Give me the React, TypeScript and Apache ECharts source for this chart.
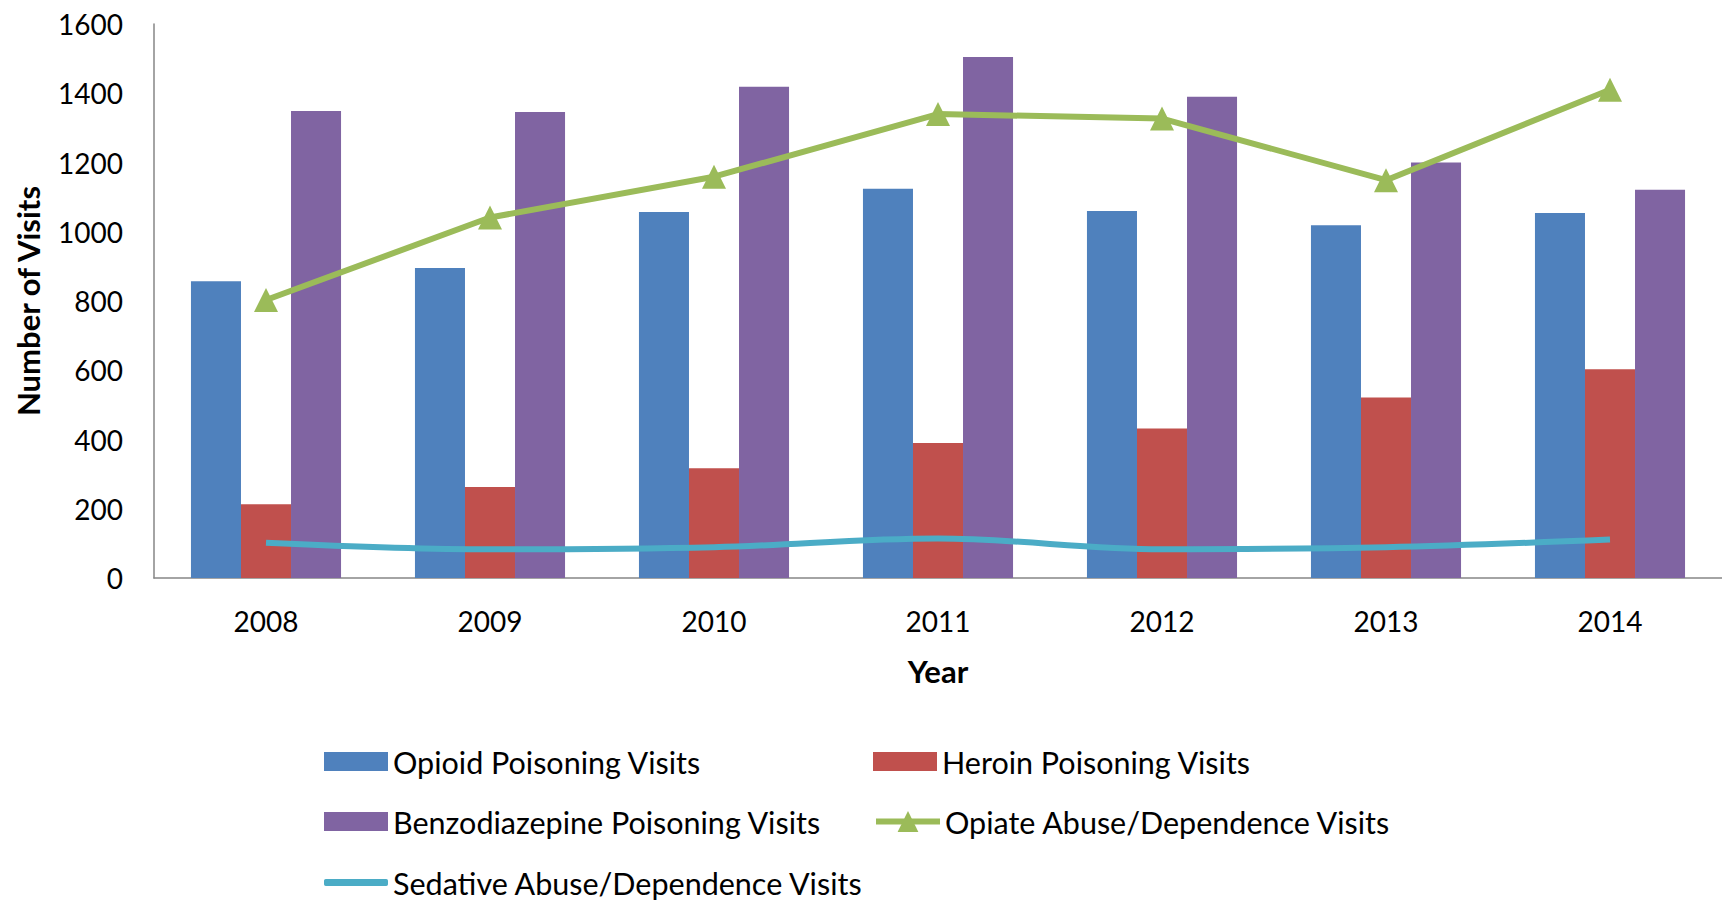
import React, { useEffect, useRef } from "react";
import * as echarts from "echarts";

const years = ["2008", "2009", "2010", "2011", "2012", "2013", "2014"];
const opioidPoisoning = [857, 895, 1057, 1124, 1060, 1019, 1054];
const heroinPoisoning = [213, 263, 317, 390, 432, 521, 603];
const benzoPoisoning = [1349, 1346, 1419, 1505, 1390, 1200, 1121];
const opiateAbuse = [803, 1041, 1159, 1340, 1327, 1149, 1410];
const sedativeAbuse = [102, 83, 89, 114, 83, 89, 111];

const seriesNames = [
  "Opioid Poisoning Visits",
  "Heroin Poisoning Visits",
  "Benzodiazepine Poisoning Visits",
  "Opiate Abuse/Dependence Visits",
  "Sedative Abuse/Dependence Visits",
];

const FONT = "Lato";

export default function App() {
  const ref = useRef<HTMLDivElement>(null);
  useEffect(() => {
    if (!ref.current) return;
    const chart = echarts.init(ref.current, undefined, { renderer: "svg" });
    const legendBase = {
      orient: "horizontal",
      padding: 0,
      itemWidth: 64,
      itemHeight: 19,
      itemGap: 0,
      textStyle: { fontFamily: FONT, fontSize: 30.5, color: "#000" },
      selectedMode: false,
    };
    const rowTops = [746, 806, 867];
    chart.setOption({
      animation: false,
      backgroundColor: "#fff",
      grid: { left: 154, right: 0, top: 24, bottom: 323, containLabel: false },
      legend: [
        { ...legendBase, left: 324, top: rowTops[0], icon: "rect", data: [seriesNames[0]] },
        { ...legendBase, left: 873, top: rowTops[0], icon: "rect", data: [seriesNames[1]] },
        { ...legendBase, left: 324, top: rowTops[1], icon: "rect", data: [seriesNames[2]] },
        {
          ...legendBase,
          left: 873,
          top: rowTops[1],
          itemHeight: 26,
          lineStyle: { width: 6 },
          data: [seriesNames[3]],
        },
        {
          ...legendBase,
          left: 324,
          top: rowTops[2],
          itemHeight: 7,
          icon: "roundRect",
          data: [seriesNames[4]],
        },
      ],
      xAxis: {
        type: "category",
        data: years,
        name: "Year",
        nameLocation: "middle",
        nameGap: 77,
        nameTextStyle: { fontFamily: FONT, fontSize: 31, fontWeight: "bold", color: "#000" },
        axisLine: { lineStyle: { color: "#868686", width: 1.5 } },
        axisTick: { show: false },
        axisLabel: { fontFamily: FONT, fontSize: 28, color: "#000", margin: 29 },
      },
      yAxis: {
        type: "value",
        min: 0,
        max: 1600,
        interval: 200,
        name: "Number of Visits",
        nameLocation: "middle",
        nameGap: 111,
        nameTextStyle: { fontFamily: FONT, fontSize: 31, fontWeight: "bold", color: "#000" },
        axisLine: { show: true, lineStyle: { color: "#868686", width: 1.5 } },
        axisTick: { show: false },
        splitLine: { show: false },
        axisLabel: {
          fontFamily: FONT,
          fontSize: 28,
          color: "#000",
          margin: 31,
          formatter: (v: number) => String(v),
        },
      },
      series: [
        {
          name: seriesNames[0],
          type: "bar",
          data: opioidPoisoning,
          itemStyle: { color: "#4F81BD" },
          barGap: "0%",
          barCategoryGap: "33%",
        },
        {
          name: seriesNames[1],
          type: "bar",
          data: heroinPoisoning,
          itemStyle: { color: "#C0504D" },
          barGap: "0%",
          barCategoryGap: "33%",
        },
        {
          name: seriesNames[2],
          type: "bar",
          data: benzoPoisoning,
          itemStyle: { color: "#8064A2" },
          barGap: "0%",
          barCategoryGap: "33%",
        },
        {
          name: seriesNames[3],
          type: "line",
          data: opiateAbuse,
          symbol: "triangle",
          symbolSize: 24,
          lineStyle: { color: "#9BBB59", width: 6 },
          itemStyle: { color: "#9BBB59" },
          z: 5,
        },
        {
          name: seriesNames[4],
          type: "line",
          data: sedativeAbuse,
          smooth: 0.35,
          symbol: "none",
          lineStyle: { color: "#4BACC6", width: 6 },
          itemStyle: { color: "#4BACC6" },
          z: 5,
        },
      ],
    });
    return () => chart.dispose();
  }, []);
  return (
    <div
      ref={ref}
      style={{ position: "fixed", left: 0, top: 0, width: 1722, height: 901 }}
    />
  );
}
